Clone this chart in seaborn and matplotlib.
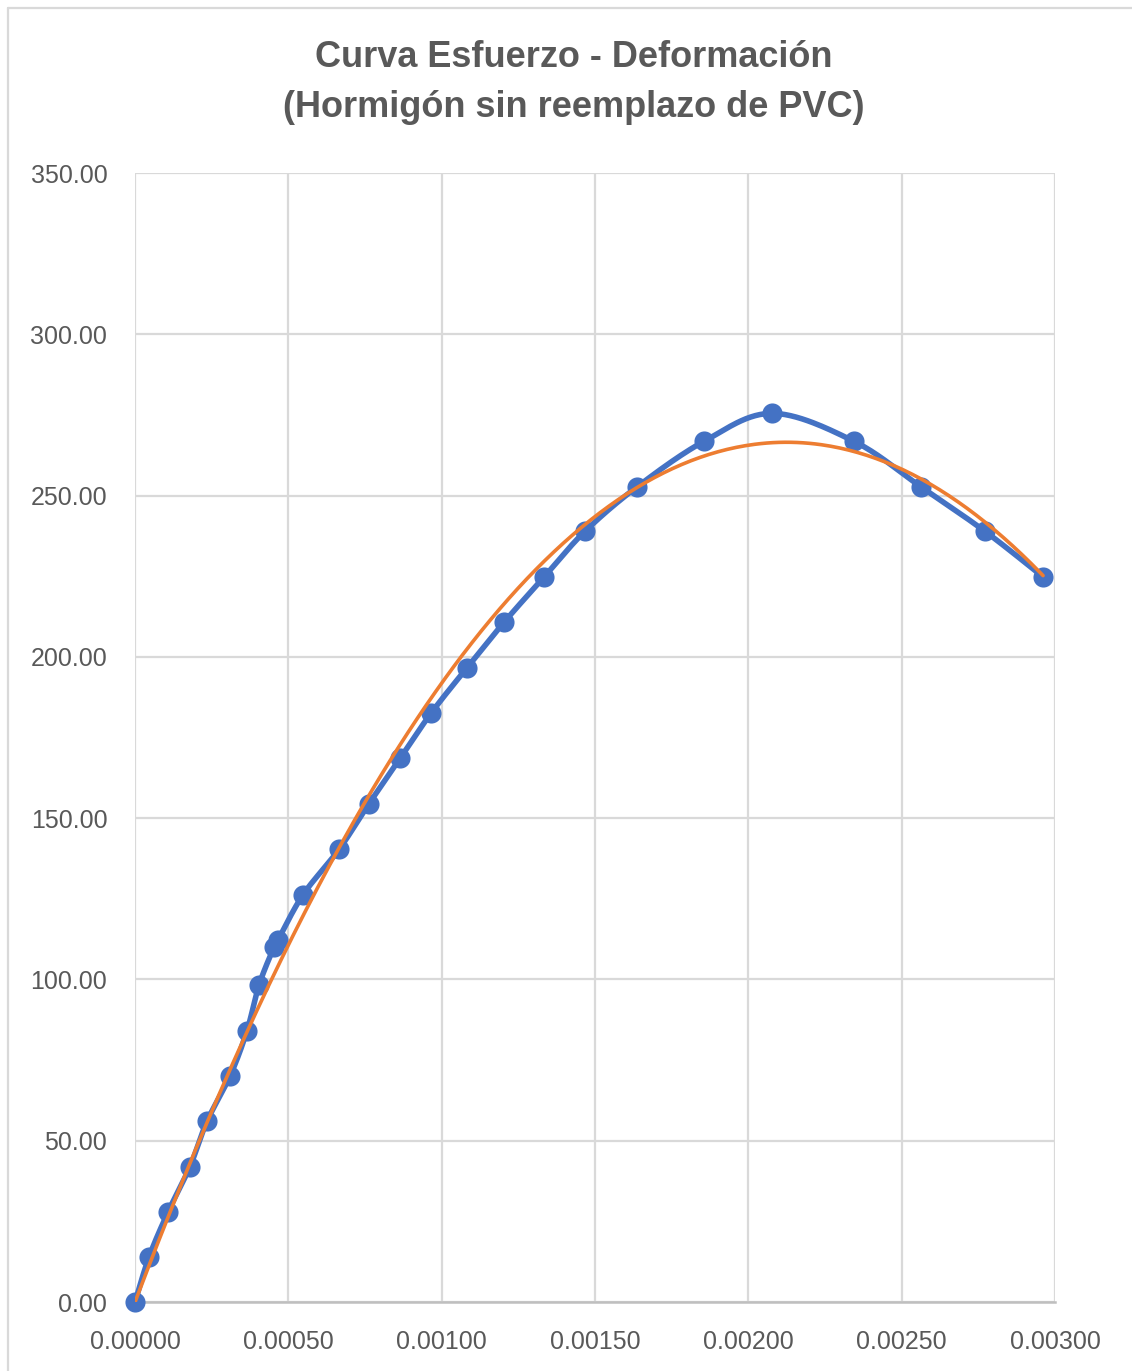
import numpy as np
import pandas as pd
import matplotlib
matplotlib.use("Agg")
import matplotlib.pyplot as plt
from matplotlib.lines import Line2D
from matplotlib.ticker import FuncFormatter
import seaborn as sns

# Ensayo de compresión: deformación unitaria y esfuerzo (kg/cm²)
deformacion = [0.0, 0.0000457, 0.000108, 0.000179, 0.000235, 0.000310, 0.000365,
               0.000404, 0.000453, 0.000466, 0.000548, 0.000665, 0.000763, 0.000864,
               0.000965, 0.001083, 0.001203, 0.001334, 0.001467, 0.001637, 0.001855,
               0.002077, 0.002345, 0.002563, 0.002772, 0.002961]
esfuerzo = [0.0, 14.0, 28.0, 42.0, 56.1, 70.1, 84.1, 98.2, 110.0, 112.2, 126.3,
            140.3, 154.5, 168.5, 182.5, 196.7, 210.7, 224.8, 238.9, 252.7, 266.8,
            275.5, 266.8, 252.7, 238.9, 224.8]

x_ticks = [0.0, 0.0005, 0.0010, 0.0015, 0.0020, 0.0025, 0.0030]
y_ticks = [0, 50, 100, 150, 200, 250, 300, 350]

titulo = "Curva Esfuerzo - Deformación\n(Hormigón sin reemplazo de PVC)"

BLUE = "#4472C4"
ORANGE = "#ED7D31"
GRID = "#D9D9D9"
TEXT = "#595959"

df = pd.DataFrame({"deformacion": deformacion, "esfuerzo": esfuerzo})


def catmull_rom(x, y, n=30):
    """Smooth curve through every point (uniform Catmull-Rom)."""
    p = np.column_stack([x, y]).astype(float)
    p = np.vstack([p[0], p, p[-1]])
    out = []
    t = np.linspace(0, 1, n, endpoint=False)[:, None]
    for i in range(1, len(p) - 2):
        p0, p1, p2, p3 = p[i - 1], p[i], p[i + 1], p[i + 2]
        seg = 0.5 * ((2 * p1) + (-p0 + p2) * t + (2 * p0 - 5 * p1 + 4 * p2 - p3) * t ** 2
                     + (-p0 + 3 * p1 - 3 * p2 + p3) * t ** 3)
        out.append(seg)
    out.append(p[-2][None, :])
    out = np.vstack(out)
    return out[:, 0], out[:, 1]


sx, sy = catmull_rom(df["deformacion"].values, df["esfuerzo"].values)
smooth = pd.DataFrame({"x": sx, "y": sy})

# 2nd order polynomial trend line with intercept fixed at zero
X = np.column_stack([df["deformacion"], df["deformacion"] ** 2])
(b1, b2), *_ = np.linalg.lstsq(X, df["esfuerzo"].values, rcond=None)
tx = np.linspace(0, df["deformacion"].max(), 300)
trend = pd.DataFrame({"x": tx, "y": b1 * tx + b2 * tx ** 2})

sns.set_theme(style="white")
plt.rcParams["font.family"] = ["Liberation Sans", "DejaVu Sans"]

fig = plt.figure(figsize=(11.32, 13.71), dpi=100)
ax = fig.add_axes([0.1193, 0.0503, 0.8127, 0.8235])

sns.lineplot(data=smooth, x="x", y="y", sort=False, color=BLUE, lw=4.0,
             ax=ax, zorder=3, estimator=None)
sns.scatterplot(data=df, x="deformacion", y="esfuerzo", color=BLUE, s=210,
                edgecolor=BLUE, linewidth=0, ax=ax, zorder=4, clip_on=False)
sns.lineplot(data=trend, x="x", y="y", sort=False, color=ORANGE, lw=2.6,
             ax=ax, zorder=5, estimator=None)

ax.set_xlim(0, 0.003)
ax.set_ylim(0, 350)
ax.set_xticks(x_ticks)
ax.set_yticks(y_ticks)
ax.xaxis.set_major_formatter(FuncFormatter(lambda v, _: f"{v:.5f}"))
ax.yaxis.set_major_formatter(FuncFormatter(lambda v, _: f"{v:.2f}"))
ax.grid(True, color=GRID, lw=1.6)
ax.set_axisbelow(True)
for side in ["left", "right", "top"]:
    ax.spines[side].set_visible(False)
ax.spines["bottom"].set_color("#BFBFBF")
ax.spines["bottom"].set_linewidth(1.8)
ax.tick_params(axis="both", length=0, labelsize=18, colors=TEXT)
ax.tick_params(axis="x", pad=20)
ax.tick_params(axis="y", pad=20)
ax.set_xlabel("")
ax.set_ylabel("")

fig.text(0.507, 0.9705, titulo, ha="center", va="top", fontsize=26,
         fontweight="bold", color=TEXT, linespacing=1.55)

# chart area border (left and top edges)
fig.add_artist(Line2D([8 / 1132, 8 / 1132], [0, 1 - 8 / 1371], color=GRID, lw=1.6))
fig.add_artist(Line2D([8 / 1132, 1], [1 - 8 / 1371, 1 - 8 / 1371], color=GRID, lw=1.6))

fig.savefig("out.png", dpi=100)
